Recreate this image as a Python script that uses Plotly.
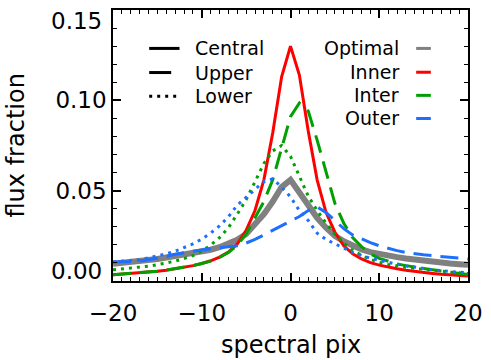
import plotly.graph_objects as go

# ---------------- data ----------------
pix = list(range(-20, 21))

inner_central = [0.0035, 0.0038, 0.0041, 0.0045, 0.0049, 0.0054, 0.0060, 0.0067, 0.0075, 0.0085,
                 0.0097, 0.0112, 0.0132, 0.0160, 0.0205, 0.0280, 0.0390, 0.0560, 0.0820, 0.1130,
                 0.1300,
                 0.1140, 0.0830, 0.0560, 0.0380, 0.0270, 0.0195, 0.0150, 0.0122, 0.0102, 0.0088,
                 0.0077, 0.0068, 0.0060, 0.0053, 0.0047, 0.0042, 0.0037, 0.0033, 0.0030, 0.0027]

inter_upper = [0.0035, 0.0038, 0.0041, 0.0045, 0.0049, 0.0054, 0.0060, 0.0067, 0.0075, 0.0085,
               0.0097, 0.0110, 0.0130, 0.0158, 0.0198, 0.0260, 0.0350, 0.0440, 0.0560, 0.0740,
               0.0910,
               0.0985, 0.0940, 0.0780, 0.0600, 0.0430, 0.0320, 0.0240, 0.0190, 0.0150, 0.0125,
               0.0108, 0.0095, 0.0085, 0.0076, 0.0069, 0.0062, 0.0055, 0.0048, 0.0042, 0.0036]

inter_lower = [0.0062, 0.0066, 0.0070, 0.0075, 0.0082, 0.0090, 0.0099, 0.0110, 0.0124, 0.0140,
               0.0165, 0.0198, 0.0240, 0.0295, 0.0370, 0.0450, 0.0550, 0.0650, 0.0720, 0.0750,
               0.0690,
               0.0580, 0.0470, 0.0390, 0.0320, 0.0260, 0.0210, 0.0170, 0.0142, 0.0120, 0.0103,
               0.0092, 0.0083, 0.0076, 0.0070, 0.0064, 0.0058, 0.0053, 0.0049, 0.0045, 0.0041]

optimal = [0.0095, 0.0099, 0.0103, 0.0108, 0.0114, 0.0122, 0.0130, 0.0137, 0.0144, 0.0152,
           0.0162, 0.0173, 0.0187, 0.0205, 0.0228, 0.0260, 0.0310, 0.0370, 0.0440, 0.0520,
           0.0560,
           0.0490, 0.0420, 0.0350, 0.0295, 0.0250, 0.0220, 0.0195, 0.0175, 0.0160, 0.0149,
           0.0140, 0.0132, 0.0125, 0.0118, 0.0112, 0.0107, 0.0102, 0.0097, 0.0093, 0.0090]

outer_upper = [0.0105, 0.0107, 0.0109, 0.0110, 0.0118, 0.0125, 0.0135, 0.0148, 0.0158, 0.0165,
               0.0172, 0.0177, 0.0182, 0.0188, 0.0195, 0.0210, 0.0230, 0.0255, 0.0280, 0.0305,
               0.0330,
               0.0357, 0.0390, 0.0410, 0.0380, 0.0335, 0.0290, 0.0255, 0.0232, 0.0212, 0.0195,
               0.0180, 0.0168, 0.0158, 0.0150, 0.0145, 0.0140, 0.0135, 0.0130, 0.0126, 0.0122]

outer_lower = [0.0105, 0.0110, 0.0115, 0.0118, 0.0128, 0.0138, 0.0150, 0.0165, 0.0183, 0.0205,
               0.0232, 0.0265, 0.0305, 0.0355, 0.0420, 0.0465, 0.0510, 0.0550, 0.0565, 0.0520,
               0.0465,
               0.0390, 0.0335, 0.0265, 0.0230, 0.0205, 0.0180, 0.0158, 0.0142, 0.0126, 0.0115,
               0.0103, 0.0093, 0.0084, 0.0076, 0.0069, 0.0062, 0.0057, 0.0052, 0.0048, 0.0045]

x_tickvals = [-20, -10, 0, 10, 20]
y_tickvals = [0.00, 0.05, 0.10, 0.15]
y_ticktext = ["0.00", "0.05", "0.10", "0.15"]

style_names = ["Central", "Upper", "Lower"]
region_names = ["Optimal", "Inner", "Inter", "Outer"]

# ---------------- styles ----------------
GRAY = "#808080"
RED = "#ff0000"
GREEN = "#00a000"
BLUE = "#1f6fff"
DASH = "18px,9px"
DOT = "3px,5px"
FONT = "DejaVu Sans"

X_RANGE = [-20, 20]
Y_RANGE = [0, 0.15]

fig = go.Figure()

series = [
    (optimal, GRAY, 6, "solid", "x", "y"),
    (inner_central, RED, 3, "solid", "x", "y"),
    (inter_upper, GREEN, 3, DASH, "x", "y"),
    (inter_lower, GREEN, 3, DOT, "x", "y"),
    (outer_upper, BLUE, 3, DASH, "x", "y"),
    # last series drawn on the overlay axes, which carry the mirrored top/right ticks
    (outer_lower, BLUE, 3, DOT, "x2", "y2"),
]
for ys, col, w, dash, xa, ya in series:
    fig.add_trace(go.Scatter(x=pix, y=ys, mode="lines", xaxis=xa, yaxis=ya,
                             line=dict(color=col, width=w, dash=dash),
                             showlegend=False, hoverinfo="skip"))

# ---------------- layout ----------------
L, R, T, B = 113, 15, 8, 79
W, H = 491, 360
pw, ph = W - L - R, H - T - B


def px2paper(px, py):
    return (px - L) / pw, (H - B - py) / ph


annotations = []
shapes = []

# left legend column (line styles)
ys_left = [46.7, 71.0, 95.0]
styles_left = [("solid", 3), ("22px,10px", 3), ("3px,5px", 3)]
for name, py, (dash, w) in zip(style_names, ys_left, styles_left):
    x0, y0 = px2paper(150, py)
    x1, _ = px2paper(181, py)
    shapes.append(dict(type="line", xref="paper", yref="paper", x0=x0, x1=x1, y0=y0, y1=y0,
                       line=dict(color="black", width=w, dash=dash)))
    tx, ty = px2paper(195, py)
    annotations.append(dict(text=name, xref="paper", yref="paper", x=tx, y=ty,
                            xanchor="left", yanchor="middle", showarrow=False,
                            font=dict(family=FONT, size=19, color="black")))

# right legend column (colours)
ys_right = [46.7, 70.7, 94.0, 117.3]
cols_right = [GRAY, RED, GREEN, BLUE]
for name, py, col in zip(region_names, ys_right, cols_right):
    x0, y0 = px2paper(423, py)
    x1, _ = px2paper(438, py)
    shapes.append(dict(type="line", xref="paper", yref="paper", x0=x0, x1=x1, y0=y0, y1=y0,
                       line=dict(color=col, width=3)))
    tx, ty = px2paper(407, py)
    annotations.append(dict(text=name, xref="paper", yref="paper", x=tx, y=ty,
                            xanchor="right", yanchor="middle", showarrow=False,
                            font=dict(family=FONT, size=19, color="black")))

tfont = dict(family=FONT, size=23, color="black")

# end labels of the y axis kept inside the frame height (as in the original)
annotations.append(dict(text=y_ticktext[-1], xref="paper", yref="y", x=0, y=y_tickvals[-1],
                        xanchor="right", yanchor="top", xshift=-9, yshift=4,
                        showarrow=False, font=tfont))
annotations.append(dict(text=y_ticktext[0], xref="paper", yref="y", x=0, y=y_tickvals[0],
                        xanchor="right", yanchor="bottom", xshift=-9, yshift=-5,
                        showarrow=False, font=tfont))

# axis titles
annotations.append(dict(text="spectral pix", xref="paper", yref="paper", x=0.5, y=0,
                        xanchor="center", yanchor="top", yshift=-48, showarrow=False,
                        font=dict(family=FONT, size=24, color="black")))
annotations.append(dict(text="flux fraction", xref="paper", yref="paper", x=0, y=0.5,
                        xanchor="right", yanchor="middle", xshift=-82, textangle=-90,
                        showarrow=False, font=dict(family=FONT, size=24, color="black")))

tick_common = dict(ticks="inside", ticklen=8, tickwidth=1.5, tickcolor="black",
                   showgrid=False, zeroline=False)
x_minor = dict(dtick=1, ticks="inside", ticklen=4, tickwidth=1.3, tickcolor="black", showgrid=False)
y_minor = dict(dtick=0.01, ticks="inside", ticklen=4, tickwidth=1.3, tickcolor="black", showgrid=False)

fig.update_layout(
    width=W, height=H,
    margin=dict(l=L, r=R, t=T, b=B),
    paper_bgcolor="white", plot_bgcolor="white",
    xaxis=dict(range=X_RANGE, tickvals=x_tickvals, ticklabelstandoff=11,
               showline=True, linecolor="black", linewidth=1.5, mirror=True,
               minor=x_minor, tickfont=tfont, ticklabeloverflow="allow", **tick_common),
    yaxis=dict(range=Y_RANGE, tickvals=y_tickvals,
               ticktext=[""] + y_ticktext[1:-1] + [""], ticklabelstandoff=0,
               showline=True, linecolor="black", linewidth=1.5, mirror=True,
               minor=y_minor, tickfont=tfont, **tick_common),
    xaxis2=dict(range=X_RANGE, tickvals=x_tickvals, overlaying="x", side="top",
                anchor="y2", showticklabels=False, showline=False,
                minor=x_minor, **tick_common),
    yaxis2=dict(range=Y_RANGE, tickvals=y_tickvals, overlaying="y", side="right",
                anchor="x2", showticklabels=False, showline=False,
                minor=y_minor, **tick_common),
    annotations=annotations,
    shapes=shapes,
)

fig.write_html("out.html")
